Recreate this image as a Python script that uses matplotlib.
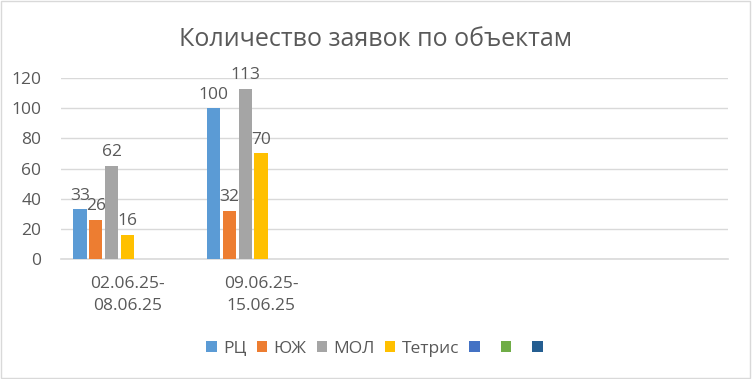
import numpy as np
import matplotlib.pyplot as plt
from matplotlib.patches import Rectangle, Patch

plt.rcParams['font.family'] = ['Open Sans', 'DejaVu Sans']

categories = ['02.06.25-\n08.06.25', '09.06.25-\n15.06.25', '', '', '']
series_names = ['РЦ', 'ЮЖ', 'МОЛ', 'Тетрис', ' ', ' ', ' ']
series_colors = ['#5B9BD5', '#ED7D31', '#A5A5A5', '#FFC000', '#4472C4', '#70AD47', '#255E91']
rc = [33, 100]
yuzh = [26, 32]
mol = [62, 113]
tetris = [16, 70]
series_values = [rc, yuzh, mol, tetris, [], [], []]

text_col = '#595959'

fig = plt.figure(figsize=(7.52, 3.79), dpi=100)
ax = fig.add_axes([0.081, 0.3166, 0.887, 0.4774])

x = np.arange(len(categories))
step = 0.119
width = 0.098
for i, (vals, col) in enumerate(zip(series_values, series_colors)):
    v = np.full(len(categories), np.nan)
    v[:len(vals)] = vals
    bars = ax.bar(x - 0.5 + 0.0835 + step * i + step / 2, v, width=width, color=col, zorder=3)
    if len(vals):
        ax.bar_label(bars, labels=[str(a) for a in vals] + [''] * (len(categories) - len(vals)),
                     padding=4, fontsize=12.5, color=text_col)

ax.set_xlim(-0.5, len(categories) - 0.5)
ax.set_ylim(0, 120)
ax.set_yticks(range(0, 121, 20))
ax.set_xticks(x)
ax.set_xticklabels(categories, fontsize=12.5, color=text_col, linespacing=1.55)
ax.tick_params(axis='both', length=0, colors=text_col, labelsize=12.5)
ax.tick_params(axis='x', pad=12)
ax.tick_params(axis='y', pad=14)
ax.yaxis.grid(True, color='#D9D9D9', linewidth=1, zorder=0)
for s in ['top', 'right', 'left']:
    ax.spines[s].set_visible(False)
ax.spines['bottom'].set_color('#D9D9D9')
ax.spines['bottom'].set_linewidth(1.2)

fig.text(0.5, 0.895, 'Количество заявок по объектам', ha='center', va='center',
         fontsize=18, color=text_col)

handles = [Patch(facecolor=c) for c in series_colors]
fig.legend(handles, series_names, loc='center', bbox_to_anchor=(0.505, 0.08), ncol=7,
           frameon=False, fontsize=12.5, labelcolor=text_col, handlelength=0.6, handleheight=0.6,
           handletextpad=0.35, columnspacing=0.6)

fig.patches.append(Rectangle((0.001, 0.002), 0.996, 0.995, transform=fig.transFigure,
                             fill=False, edgecolor='#D9D9D9', linewidth=1))

fig.savefig('out.png', dpi=100)
